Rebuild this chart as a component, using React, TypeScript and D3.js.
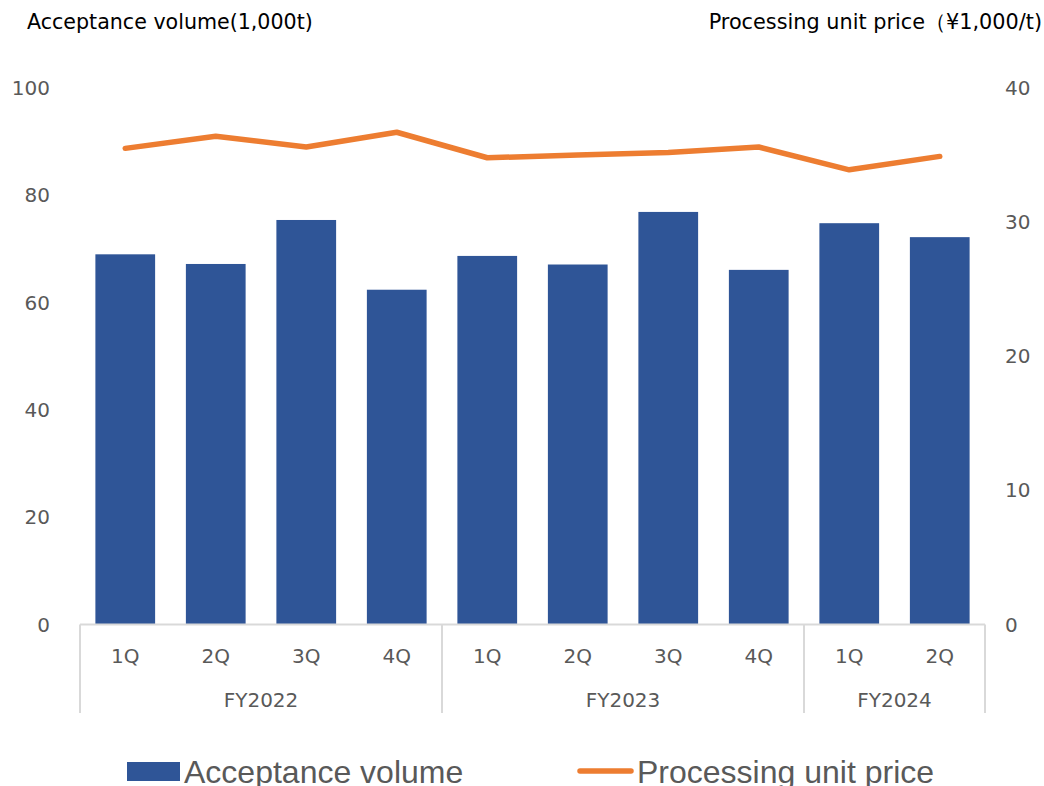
import { useEffect, useRef } from "react";
import * as d3 from "d3";

const quarters = ["1Q", "2Q", "3Q", "4Q", "1Q", "2Q", "3Q", "4Q", "1Q", "2Q"];
const fiscalYears = ["FY2022", "FY2023", "FY2024"];
const quartersPerYear = [4, 4, 2];
const acceptanceVolume = [69.0, 67.2, 75.4, 62.4, 68.7, 67.1, 76.9, 66.1, 74.8, 72.2];
const unitPrice = [35.5, 36.4, 35.6, 36.7, 34.8, 35.0, 35.2, 35.6, 33.9, 34.9];
const leftTicks = [0, 20, 40, 60, 80, 100];
const rightTicks = [0, 10, 20, 30, 40];

const W = 1044;
const H = 786;

export default function App() {
  const svgRef = useRef<SVGSVGElement>(null);

  useEffect(() => {
    const svg = d3.select(svgRef.current);
    svg.selectAll("*").remove();

    const font = "'DejaVu Sans', Verdana, sans-serif";
    const left = 80;
    const right = 985;
    const top = 88;
    const bottom = 624.5;

    // index-based band so repeated quarter names stay separate
    const x = d3
      .scaleBand<number>()
      .domain(d3.range(quarters.length))
      .range([left, right])
      .paddingInner(0.34)
      .paddingOuter(0.17);
    const yL = d3.scaleLinear().domain([0, 100]).range([bottom, top]);
    const yR = d3.scaleLinear().domain([0, 40]).range([bottom, top]);

    // titles
    svg.append("text")
      .attr("x", 27).attr("y", 29)
      .attr("font-family", font).attr("font-size", 20.6)
      .attr("fill", "#000")
      .text("Acceptance volume(1,000t)");
    svg.append("text")
      .attr("x", 1042).attr("y", 29)
      .attr("text-anchor", "end")
      .attr("font-family", font).attr("font-size", 20.8)
      .attr("fill", "#000")
      .text("Processing unit price（¥1,000/t)");

    // tick labels
    svg.append("g").selectAll("text")
      .data(leftTicks).enter().append("text")
      .attr("x", 50).attr("y", (d) => yL(d) + 7)
      .attr("text-anchor", "end")
      .attr("font-family", font).attr("font-size", 20)
      .attr("fill", "#595959")
      .text((d) => d);
    svg.append("g").selectAll("text")
      .data(rightTicks).enter().append("text")
      .attr("x", 1005).attr("y", (d) => yR(d) + 7)
      .attr("font-family", font).attr("font-size", 20)
      .attr("fill", "#595959")
      .text((d) => d);

    // bars
    svg.append("g").selectAll("rect")
      .data(acceptanceVolume).enter().append("rect")
      .attr("x", (_, i) => x(i)!)
      .attr("y", (d) => yL(d))
      .attr("width", x.bandwidth())
      .attr("height", (d) => bottom - yL(d))
      .attr("fill", "#2F5597");

    // x axis line + group dividers
    const axis = svg.append("g").attr("stroke", "#d9d9d9").attr("stroke-width", 2);
    axis.append("line")
      .attr("x1", left).attr("x2", right)
      .attr("y1", bottom).attr("y2", bottom);
    const bounds = [0];
    quartersPerYear.forEach((n, i) => bounds.push(bounds[i] + n));
    const step = x.step();
    const edge = (k: number) => left + step * k;
    bounds.forEach((b) => {
      axis.append("line")
        .attr("x1", edge(b)).attr("x2", edge(b))
        .attr("y1", bottom).attr("y2", 713);
    });

    // quarter labels
    svg.append("g").selectAll("text")
      .data(quarters).enter().append("text")
      .attr("x", (_, i) => x(i)! + x.bandwidth() / 2)
      .attr("y", 663)
      .attr("text-anchor", "middle")
      .attr("font-family", font).attr("font-size", 20)
      .attr("fill", "#595959")
      .text((d) => d);

    // fiscal year labels
    svg.append("g").selectAll("text")
      .data(fiscalYears).enter().append("text")
      .attr("x", (_, i) => (edge(bounds[i]) + edge(bounds[i + 1])) / 2)
      .attr("y", 707)
      .attr("text-anchor", "middle")
      .attr("font-family", font).attr("font-size", 20)
      .attr("fill", "#595959")
      .text((d) => d);

    // price line
    const line = d3.line<number>()
      .x((_, i) => x(i)! + x.bandwidth() / 2)
      .y((d) => yR(d));
    svg.append("path")
      .datum(unitPrice)
      .attr("d", line)
      .attr("fill", "none")
      .attr("stroke", "#ED7D31")
      .attr("stroke-width", 5.5)
      .attr("stroke-linecap", "round")
      .attr("stroke-linejoin", "round");

    // legend
    const lf = "'Liberation Sans', Arial, sans-serif";
    svg.append("rect")
      .attr("x", 127).attr("y", 762).attr("width", 53).attr("height", 19)
      .attr("fill", "#2F5597");
    svg.append("text")
      .attr("x", 184).attr("y", 783)
      .attr("font-family", lf).attr("font-size", 32)
      .attr("fill", "#595959")
      .text("Acceptance volume");
    svg.append("line")
      .attr("x1", 580).attr("x2", 631).attr("y1", 771).attr("y2", 771)
      .attr("stroke", "#ED7D31").attr("stroke-width", 5.5)
      .attr("stroke-linecap", "round");
    svg.append("text")
      .attr("x", 637).attr("y", 783)
      .attr("font-family", lf).attr("font-size", 32)
      .attr("fill", "#595959")
      .text("Processing unit price");
  }, []);

  return (
    <svg
      ref={svgRef}
      width={W}
      height={H}
      style={{ position: "absolute", left: 0, top: 0, background: "#fff" }}
    ></svg>
  );
}
